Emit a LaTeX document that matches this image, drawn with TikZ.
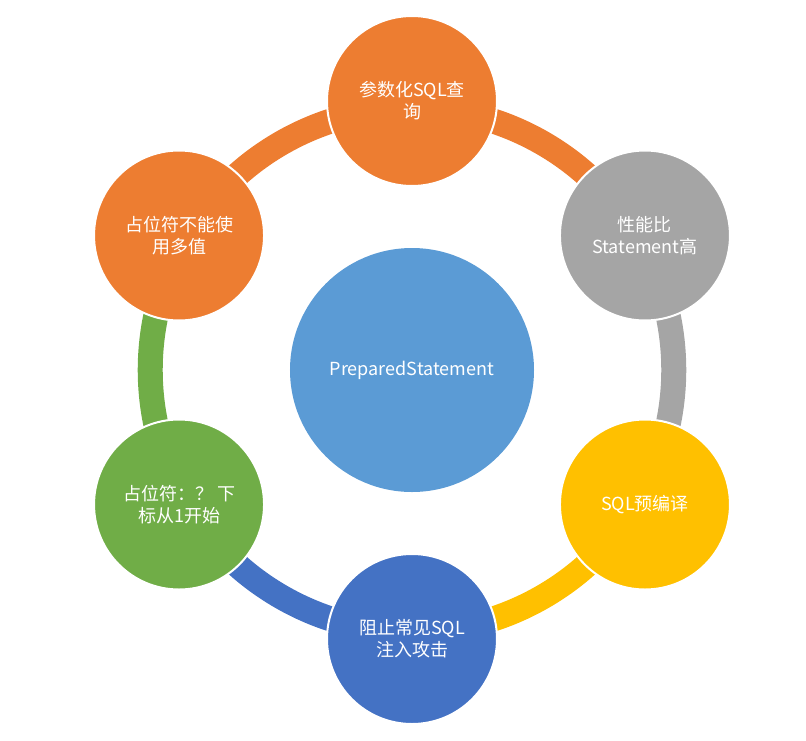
\documentclass[tikz,border=0pt]{standalone}
\usepackage{fontspec}
\setmainfont{Noto Sans CJK SC}
\definecolor{accBlue}{HTML}{5B9BD5}
\definecolor{accOrange}{HTML}{ED7D31}
\definecolor{accGray}{HTML}{A5A5A5}
\definecolor{accGold}{HTML}{FFC000}
\definecolor{accDeep}{HTML}{4472C4}
\definecolor{accGreen}{HTML}{70AD47}
\tikzset{
	center node/.style={circle, fill=accBlue, text=white, inner sep=0pt, minimum size=183pt, font=\fontsize{13.5}{16.5}\selectfont},
	outer node/.style={circle, draw=white, line width=1.5pt, text=white, inner sep=0pt, minimum size=127.5pt, align=center, font=\fontsize{13.5}{16.5}\selectfont},
	orange node/.style={outer node, fill=accOrange},
	gray node/.style={outer node, fill=accGray},
	gold node/.style={outer node, fill=accGold},
	deep node/.style={outer node, fill=accDeep},
	green node/.style={outer node, fill=accGreen},
	ring arc/.style={line width=18.75pt, bend left=30, looseness=0.91},
}

\begin{document}
\begin{tikzpicture}[x=0.75pt, y=0.75pt]
  \useasboundingbox (-412,-370) rectangle (394,370);

  % points on the ring
  \coordinate (p1) at (90:262);
  \coordinate (p2) at (30:262);
  \coordinate (p3) at (-30:262);
  \coordinate (p4) at (-90:262);
  \coordinate (p5) at (-150:262);
  \coordinate (p6) at (150:262);

  \draw[ring arc, accOrange] (p1) to (p2);
  \draw[ring arc, accGray] (p2) to (p3);
  \draw[ring arc, accGold] (p3) to (p4);
  \draw[ring arc, accDeep] (p4) to (p5);
  \draw[ring arc, accGreen] (p5) to (p6);
  \draw[ring arc, accOrange] (p6) to (p1);

  \node (c)[center node] at (0,0) {PreparedStatement};

  \node (n1)[orange node] at (90:269) {参数化SQL查\\询};
  \node (n2)[gray node] at (30:269) {性能比\\Statement高};
  \node (n3)[gold node] at (-30:269) {SQL预编译};
  \node (n4)[deep node] at (-90:269) {阻止常见SQL\\注入攻击};
  \node (n5)[green node] at (-150:269) {占位符：？ 下\\标从1开始};
  \node (n6)[orange node] at (150:269) {占位符不能使\\用多值};

\end{tikzpicture}
\end{document}
